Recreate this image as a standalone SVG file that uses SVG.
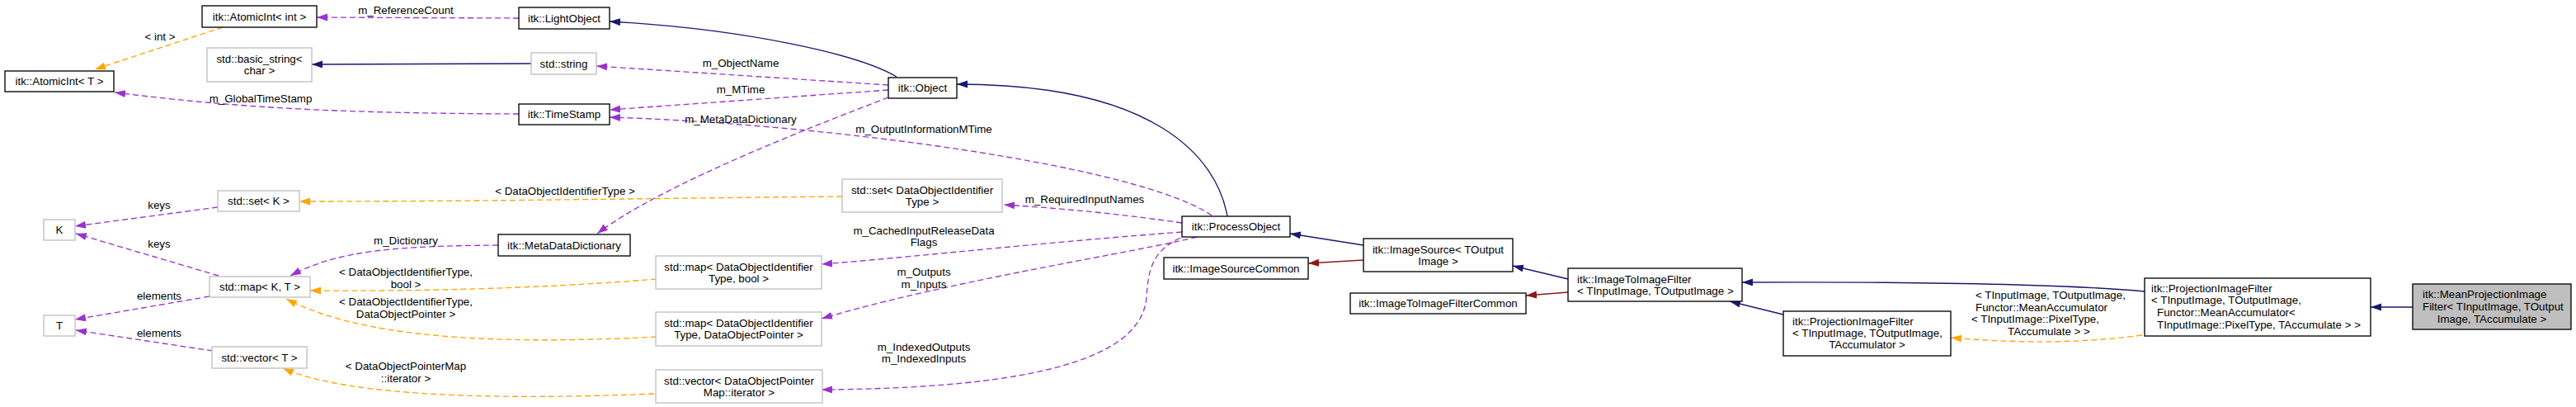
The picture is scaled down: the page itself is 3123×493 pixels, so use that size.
<svg xmlns="http://www.w3.org/2000/svg" width="3123" height="493" viewBox="0 0 3123 493">
<style>
text{font-family:"Liberation Sans",Arial,Helvetica,sans-serif;font-size:13.33px;fill:#000}
.c{text-anchor:middle}
.nb{fill:#fff;stroke:#000;stroke-width:1.33}
.ng{fill:#fff;stroke:#bfbfbf;stroke-width:1.33}
.nf{fill:#bfbfbf;stroke:#000;stroke-width:1.33}
.e{fill:none;stroke-width:1.33}
.blue{stroke:#191970;marker-end:url(#ab)}
.red{stroke:#8b1a1a;marker-end:url(#ar)}
.pur{stroke:#9a32cd;stroke-dasharray:7,4;marker-end:url(#ap)}
.org{stroke:#ffa500;stroke-dasharray:7,4;marker-end:url(#ao)}
</style>
<defs>
<marker id="ab" markerUnits="userSpaceOnUse" markerWidth="14" markerHeight="10" refX="13" refY="4.5" orient="auto"><path d="M0,0 L13,4.5 L0,9 z" fill="#191970"/></marker>
<marker id="ar" markerUnits="userSpaceOnUse" markerWidth="14" markerHeight="10" refX="13" refY="4.5" orient="auto"><path d="M0,0 L13,4.5 L0,9 z" fill="#8b1a1a"/></marker>
<marker id="ap" markerUnits="userSpaceOnUse" markerWidth="14" markerHeight="10" refX="13" refY="4.5" orient="auto"><path d="M0,0 L13,4.5 L0,9 z" fill="#9a32cd"/></marker>
<marker id="ao" markerUnits="userSpaceOnUse" markerWidth="14" markerHeight="10" refX="13" refY="4.5" orient="auto"><path d="M0,0 L13,4.5 L0,9 z" fill="#ffa500"/></marker>
</defs>
<rect x="0" y="0" width="3123" height="493" fill="#fff"/>
<g id="connectors">
<path class="e blue" d="M1087,93 C1040,65 900,35 739,26"/>
<path class="e blue" d="M644,77 L378,78"/>
<path class="e blue" d="M1488,262 C1475,190 1400,102 1160,102"/>
<path class="e blue" d="M1653,297 L1564,283"/>
<path class="e blue" d="M1901,338 L1834,322"/>
<path class="e blue" d="M2600,353 C2500,344 2350,341 2112,342"/>
<path class="e blue" d="M2162,381 L2097,365"/>
<path class="e blue" d="M2925,372 L2874,372"/>
<path class="e red" d="M1653,315 L1586,319"/>
<path class="e red" d="M1901,354 L1850,358"/>
<path class="e pur" d="M629,22 L384,21"/>
<path class="e pur" d="M629,138 C420,137 300,132 139,112"/>
<path class="e pur" d="M1077,103 L723,80"/>
<path class="e pur" d="M1077,109 L739,133"/>
<path class="e pur" d="M1469,261 C1380,200 1000,150 739,142"/>
<path class="e pur" d="M1077,118 C980,155 800,225 724,283"/>
<path class="e pur" d="M1433,270 C1350,258 1280,252 1217,248"/>
<path class="e pur" d="M1433,281 C1250,295 1100,312 996,320"/>
<path class="e pur" d="M1451,287 C1380,305 1150,340 996,386"/>
<path class="e pur" d="M1431,288 C1395,305 1392,330 1390,360 C1385,420 1300,470 996,472"/>
<path class="e pur" d="M264,251 L91,274"/>
<path class="e pur" d="M265,334 L92,283"/>
<path class="e pur" d="M254,359 L91,387"/>
<path class="e pur" d="M258,425 L92,400"/>
<path class="e pur" d="M604,297 C480,298 410,303 352,334"/>
<path class="e org" d="M270,33 L115,84"/>
<path class="e org" d="M1021,238 C800,240 600,244 363,244"/>
<path class="e org" d="M796,338 C650,350 500,353 376,352"/>
<path class="e org" d="M796,408 C600,418 440,410 347,362"/>
<path class="e org" d="M793,477 C600,485 420,480 343,446"/>
<path class="e org" d="M2597,406 C2520,416 2450,416 2365,409"/>
<text class="c" x="492" y="17">m_ReferenceCount</text>
<text class="c" x="194" y="49">&lt; int &gt;</text>
<text class="c" x="316" y="124">m_GlobalTimeStamp</text>
<text class="c" x="898" y="81">m_ObjectName</text>
<text class="c" x="898" y="113">m_MTime</text>
<text class="c" x="898" y="149">m_MetaDataDictionary</text>
<text class="c" x="1120" y="161">m_OutputInformationMTime</text>
<text class="c" x="1315" y="246">m_RequiredInputNames</text>
<text class="c" x="685" y="236">&lt; DataObjectIdentifierType &gt;</text>
<text class="c" x="193" y="253">keys</text>
<text class="c" x="193" y="300">keys</text>
<text class="c" x="492" y="296">m_Dictionary</text>
<text class="c" x="492" y="334">&lt; DataObjectIdentifierType,</text>
<text class="c" x="492" y="349">bool &gt;</text>
<text class="c" x="193" y="363">elements</text>
<text class="c" x="492" y="370">&lt; DataObjectIdentifierType,</text>
<text class="c" x="492" y="385">DataObjectPointer &gt;</text>
<text class="c" x="193" y="408">elements</text>
<text class="c" x="492" y="448">&lt; DataObjectPointerMap</text>
<text class="c" x="492" y="463">::iterator &gt;</text>
<text class="c" x="1120" y="284">m_CachedInputReleaseData</text>
<text class="c" x="1120" y="298">Flags</text>
<text class="c" x="1120" y="334">m_Outputs</text>
<text class="c" x="1120" y="349">m_Inputs</text>
<text class="c" x="1120" y="425">m_IndexedOutputs</text>
<text class="c" x="1120" y="439">m_IndexedInputs</text>
<text x="2395" y="362">&lt; TInputImage, TOutputImage,</text>
<text x="2395" y="377">Functor::MeanAccumulator</text>
<text x="2390" y="391">&lt; TInputImage::PixelType,</text>
<text class="c" x="2484" y="406">TAccumulate &gt; &gt;</text>
</g>
<g id="n_atomicint_int"><rect class="nb" x="245" y="7" width="139" height="26"/><text class="c" x="314.5" y="24.5">itk::AtomicInt&lt; int &gt;</text></g>
<g id="n_lightobject"><rect class="nb" x="629" y="9" width="110" height="26"/><text class="c" x="684" y="26.5">itk::LightObject</text></g>
<g id="n_basic_string"><rect class="ng" x="251" y="58" width="127" height="41"/><text class="c" x="314.5" y="76">std::basic_string&lt;</text><text class="c" x="314.5" y="90">char &gt;</text></g>
<g id="n_string"><rect class="ng" x="644" y="64" width="79" height="26"/><text class="c" x="683.5" y="81.5">std::string</text></g>
<g id="n_atomicint_t"><rect class="nb" x="6" y="86" width="132" height="25"/><text class="c" x="72" y="103">itk::AtomicInt&lt; T &gt;</text></g>
<g id="n_timestamp"><rect class="nb" x="629" y="126" width="110" height="25"/><text class="c" x="684" y="143">itk::TimeStamp</text></g>
<g id="n_object"><rect class="nb" x="1077" y="94" width="83" height="25"/><text class="c" x="1118.5" y="111">itk::Object</text></g>
<g id="n_set_k"><rect class="ng" x="264" y="231" width="99" height="25"/><text class="c" x="313.5" y="248">std::set&lt; K &gt;</text></g>
<g id="n_k"><rect class="ng" x="53" y="266" width="38" height="25"/><text class="c" x="72" y="283">K</text></g>
<g id="n_metadatadictionary"><rect class="nb" x="604" y="284" width="160" height="26"/><text class="c" x="684" y="301.5">itk::MetaDataDictionary</text></g>
<g id="n_map_kt"><rect class="ng" x="254" y="335" width="122" height="25"/><text class="c" x="315" y="352">std::map&lt; K, T &gt;</text></g>
<g id="n_t"><rect class="ng" x="53" y="382" width="38" height="25"/><text class="c" x="72" y="399">T</text></g>
<g id="n_vector_t"><rect class="ng" x="257" y="420" width="115" height="26"/><text class="c" x="314.5" y="437.5">std::vector&lt; T &gt;</text></g>
<g id="n_set_doi"><rect class="ng" x="1021" y="217" width="194" height="40"/><text class="c" x="1118" y="234.5">std::set&lt; DataObjectIdentifier</text><text class="c" x="1118" y="248.5">Type &gt;</text></g>
<g id="n_map_bool"><rect class="ng" x="795" y="310" width="201" height="40"/><text class="c" x="895.5" y="327.5">std::map&lt; DataObjectIdentifier</text><text class="c" x="895.5" y="341.5">Type, bool &gt;</text></g>
<g id="n_map_dop"><rect class="ng" x="795" y="378" width="201" height="41"/><text class="c" x="895.5" y="396">std::map&lt; DataObjectIdentifier</text><text class="c" x="895.5" y="410">Type, DataObjectPointer &gt;</text></g>
<g id="n_vector_dop"><rect class="ng" x="795" y="448" width="202" height="40"/><text class="c" x="896" y="465.5">std::vector&lt; DataObjectPointer</text><text class="c" x="896" y="479.5">Map::iterator &gt;</text></g>
<g id="n_processobject"><rect class="nb" x="1433" y="262" width="131" height="25"/><text class="c" x="1498.5" y="279">itk::ProcessObject</text></g>
<g id="n_imagesourcecommon"><rect class="nb" x="1411" y="312" width="175" height="26"/><text class="c" x="1498.5" y="329.5">itk::ImageSourceCommon</text></g>
<g id="n_imagesource"><rect class="nb" x="1653" y="289" width="181" height="40"/><text class="c" x="1743.5" y="306.5">itk::ImageSource&lt; TOutput</text><text class="c" x="1743.5" y="320.5">Image &gt;</text></g>
<g id="n_imagetoimagefiltercommon"><rect class="nb" x="1637" y="355" width="213" height="25"/><text class="c" x="1743.5" y="372">itk::ImageToImageFilterCommon</text></g>
<g id="n_imagetoimagefilter"><rect class="nb" x="1901" y="325" width="211" height="40"/><text x="1912" y="343">itk::ImageToImageFilter</text><text x="1912" y="357">&lt; TInputImage, TOutputImage &gt;</text></g>
<g id="n_projection_tacc"><rect class="nb" x="2162" y="377" width="203" height="54"/><text x="2173" y="393.5">itk::ProjectionImageFilter</text><text x="2173" y="407.5">&lt; TInputImage, TOutputImage,</text><text class="c" x="2263.5" y="422">TAccumulator &gt;</text></g>
<g id="n_projection_functor"><rect class="nb" x="2600" y="337" width="274" height="70"/><text x="2608" y="353.5">itk::ProjectionImageFilter</text><text x="2608" y="367.5">&lt; TInputImage, TOutputImage,</text><text x="2615" y="382.5">Functor::MeanAccumulator&lt;</text><text x="2615" y="397.5">TInputImage::PixelType, TAccumulate &gt; &gt;</text></g>
<g id="n_meanprojection"><rect class="nf" x="2925" y="344" width="192" height="55"/><text x="2937" y="360.5">itk::MeanProjectionImage</text><text x="2937" y="375.5">Filter&lt; TInputImage, TOutput</text><text class="c" x="3021" y="390.5">Image, TAccumulate &gt;</text></g>
</svg>
